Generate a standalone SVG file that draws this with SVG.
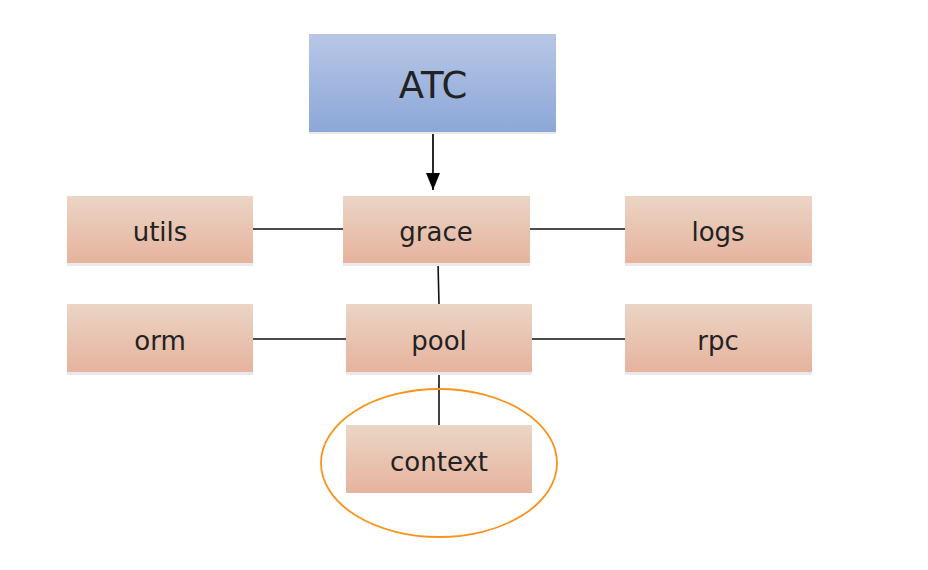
<svg xmlns="http://www.w3.org/2000/svg" width="928" height="570" viewBox="0 0 928 570">
<style>
.n{fill:url(#gn)}
.sh{fill:#e9e9e9}
.t{font-family:"DejaVu Sans",Verdana,sans-serif;font-size:26px;fill:#222;text-anchor:middle}
.c{stroke:#111;stroke-width:1.6;fill:none}
</style>
<defs>
<linearGradient id="gn" x1="0" y1="0" x2="0" y2="1"><stop offset="0" stop-color="#ebd5c5"/><stop offset="1" stop-color="#e6b39e"/></linearGradient>
<linearGradient id="gb" x1="0" y1="0" x2="0" y2="1"><stop offset="0" stop-color="#b8c7e6"/><stop offset="1" stop-color="#8ca7d8"/></linearGradient>
<marker id="ar" viewBox="0 0 10 10" refX="10" refY="5" markerWidth="17" markerHeight="14" markerUnits="userSpaceOnUse" orient="auto" preserveAspectRatio="none"><path d="M0,0L10,5L0,10z" fill="#000"/></marker>
</defs>
<rect width="928" height="570" fill="#fff"/>
<g id="connectors">
<path class="c" d="M433,132V190" marker-end="url(#ar)" style="stroke-width:1.8"/>
<path class="c" d="M253,229H343"/>
<path class="c" d="M530,229H625"/>
<path class="c" d="M438,263L439,304"/>
<path class="c" d="M253,339H346"/>
<path class="c" d="M532,339H625"/>
<path class="c" d="M439,372V425"/>
</g>
<g id="atc"><rect x="309" y="34" width="247" height="98" fill="url(#gb)"/><rect x="309" y="132" width="247" height="2" class="sh"/><text class="t" x="433" y="98" style="font-size:37px">ATC</text></g>
<g id="utils"><rect x="67" y="263" width="186" height="3" class="sh"/><rect x="67" y="196" width="186" height="67" class="n"/><text class="t" x="160" y="241">utils</text></g>
<g id="grace"><rect x="343" y="263" width="187" height="3" class="sh"/><rect x="343" y="196" width="187" height="67" class="n"/><text class="t" x="436" y="241">grace</text></g>
<g id="logs"><rect x="625" y="263" width="187" height="3" class="sh"/><rect x="625" y="196" width="187" height="67" class="n"/><text class="t" x="718" y="241">logs</text></g>
<g id="orm"><rect x="67" y="372" width="186" height="3" class="sh"/><rect x="67" y="304" width="186" height="68" class="n"/><text class="t" x="160" y="350">orm</text></g>
<g id="pool"><rect x="346" y="372" width="186" height="3" class="sh"/><rect x="346" y="304" width="186" height="68" class="n"/><text class="t" x="439" y="350">pool</text></g>
<g id="rpc"><rect x="625" y="372" width="187" height="3" class="sh"/><rect x="625" y="304" width="187" height="68" class="n"/><text class="t" x="718" y="350">rpc</text></g>
<g id="context"><rect x="346" y="425" width="186" height="68" class="n"/><text class="t" x="439" y="471">context</text></g>
<g id="highlight"><ellipse cx="439" cy="463" rx="118" ry="74" fill="none" stroke="#f7941d" stroke-width="1.8"/></g>
</svg>
